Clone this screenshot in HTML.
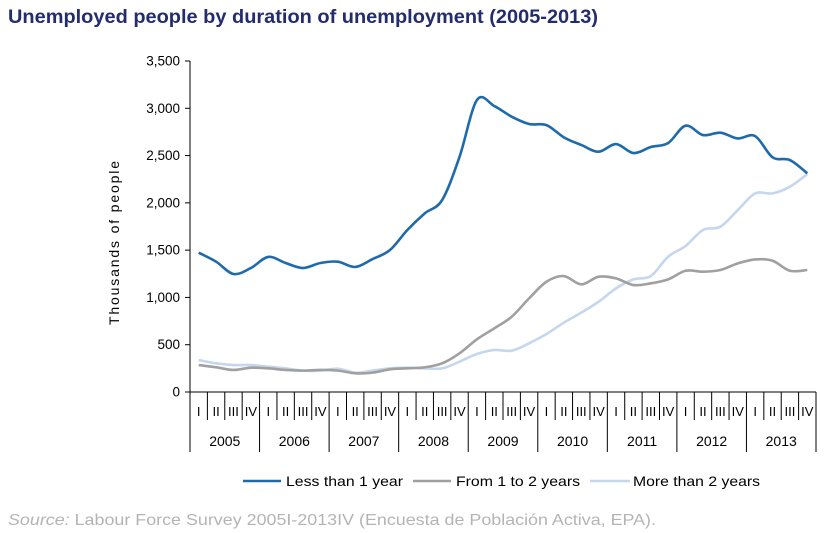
<!DOCTYPE html>
<html><head><meta charset="utf-8"><style>
body{margin:0;background:#fff;}
svg{display:block;font-family:"Liberation Sans",Arial,sans-serif;}
</style></head><body>
<svg id="chart" width="830" height="533" viewBox="0 0 830 533">
<text x="8" y="23" font-size="19" font-weight="bold" fill="#232d6e" textLength="590" lengthAdjust="spacingAndGlyphs">Unemployed people by duration of unemployment (2005-2013)</text>
<text transform="translate(119,243) rotate(-90)" text-anchor="middle" font-size="14" fill="#000" textLength="164" lengthAdjust="spacing">Thousands of people</text>
<g id="axes"></g>
<g id="series"></g>
<g>
<line x1="243" y1="481" x2="281" y2="481" stroke="#1f6aab" stroke-width="2.5"/>
<text x="286" y="486" font-size="14" textLength="117" lengthAdjust="spacingAndGlyphs">Less than 1 year</text>
<line x1="413" y1="481" x2="451" y2="481" stroke="#a0a0a0" stroke-width="2.5"/>
<text x="456" y="486" font-size="14" textLength="124" lengthAdjust="spacingAndGlyphs">From 1 to 2 years</text>
<line x1="590" y1="481" x2="630" y2="481" stroke="#c5d7ec" stroke-width="2.5"/>
<text x="633" y="486" font-size="14" textLength="127" lengthAdjust="spacingAndGlyphs">More than 2 years</text>
</g>
<text x="8" y="525" font-size="16" fill="#b4b4b4" textLength="648" lengthAdjust="spacingAndGlyphs"><tspan font-style="italic">Source:</tspan> Labour Force Survey 2005I-2013IV (Encuesta de Población Activa, EPA).</text>
</svg>
<script>
const years=["2005","2006","2007","2008","2009","2010","2011","2012","2013"];
const quarters=["I","II","III","IV"];
const yTicks=[0,500,1000,1500,2000,2500,3000,3500];
const yTickLabels=["0","500","1,000","1,500","2,000","2,500","3,000","3,500"];
const lessThan1=[1473,1378,1248,1311,1428,1364,1311,1364,1378,1322,1406,1501,1713,1889,2030,2486,3087,3024,2911,2834,2822,2693,2612,2541,2622,2527,2590,2633,2816,2717,2742,2681,2706,2482,2453,2312];
const from1to2=[285,261,233,257,250,233,226,233,226,198,205,240,250,261,303,409,557,673,796,990,1166,1226,1138,1219,1201,1131,1149,1191,1282,1272,1290,1360,1402,1388,1282,1290];
const moreThan2=[338,303,285,285,268,250,226,226,247,205,226,250,257,250,250,321,402,444,437,515,613,733,839,955,1096,1191,1226,1431,1544,1713,1748,1924,2100,2100,2171,2305];

const NS="http://www.w3.org/2000/svg";
const X0=190,X1=816,Y0=392,Y1=61,YMAX=3500;
const nQ=years.length*quarters.length;
const qw=(X1-X0)/nQ;
const xs=i=>X0+(i+0.5)*qw;
const ys=v=>Y0-(v/YMAX)*(Y0-Y1);
function mk(tag,attrs,parent){const e=document.createElementNS(NS,tag);for(const k in attrs)e.setAttribute(k,attrs[k]);parent.appendChild(e);return e;}
const ax=document.getElementById('axes');
let l=mk('line',{x1:X0,y1:Y1,x2:X0,y2:Y0,stroke:'#000','stroke-width':1},ax);


l=mk('line',{x1:X0,y1:Y0,x2:X1,y2:Y0,stroke:'#000','stroke-width':1},ax);


yTicks.forEach((v,i)=>{
  const t=mk('line',{x1:X0-5,y1:ys(v),x2:X0,y2:ys(v),stroke:'#000'},ax);
  
  
  const tx=mk('text',{x:X0-10,y:ys(v)+4.5,'text-anchor':'end','font-size':13.5},ax);
  tx.textContent=yTickLabels[i];
  
  
});
for(let i=0;i<=nQ;i++){
  const x=X0+i*qw;
  const isYear=i%4===0;
  const t=mk('line',{x1:x,y1:Y0,x2:x,y2:isYear?452:420,stroke:'#000'},ax);
  
  
  if(i<nQ){
    const q=mk('text',{x:x+qw/2,y:416,'text-anchor':'middle','font-size':13},ax);
    q.textContent=quarters[i%4];
    
    
  }
}
years.forEach((y,i)=>{
  const t=mk('text',{x:X0+(i*4+2)*qw,y:446,'text-anchor':'middle','font-size':14},ax);
  t.textContent=y;
  
  
});
function smooth(vals){
  const p=vals.map((v,i)=>[xs(i),ys(v)]);
  let d=`M${p[0][0]},${p[0][1]}`;
  for(let i=0;i<p.length-1;i++){
    const a=p[Math.max(0,i-1)],b=p[i],c=p[i+1],e=p[Math.min(p.length-1,i+2)];
    const c1=[b[0]+(c[0]-a[0])/6,b[1]+(c[1]-a[1])/6];
    const c2=[c[0]-(e[0]-b[0])/6,c[1]-(e[1]-b[1])/6];
    d+=` C${c1[0]},${c1[1]} ${c2[0]},${c2[1]} ${c[0]},${c[1]}`;
  }
  return d;
}
const sg=document.getElementById('series');
[[moreThan2,'#c5d7ec','line-more-than-2-years'],[from1to2,'#a0a0a0','line-1-to-2-years'],[lessThan1,'#1f6aab','line-less-than-1-year']].forEach(s=>{
  const p=mk('path',{d:smooth(s[0]),fill:'none',stroke:s[1],'stroke-width':2.6,'stroke-linejoin':'round'},sg);
  
  
});
</script>
</body></html>
